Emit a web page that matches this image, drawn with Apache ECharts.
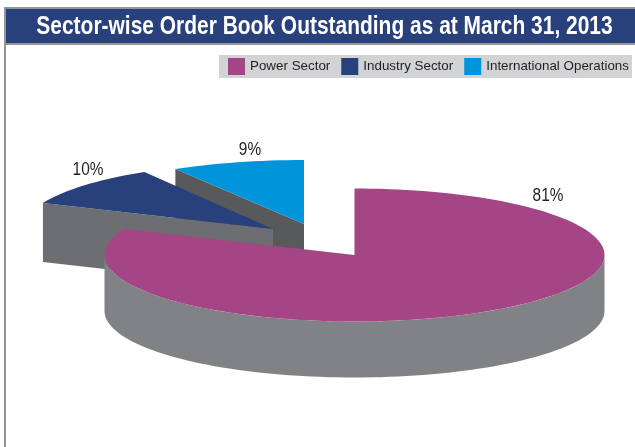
<!DOCTYPE html>
<html><head><meta charset="utf-8">
<style>html,body{margin:0;padding:0;background:#fff}#c{width:635px;height:447px}</style>
<script src="https://cdn.jsdelivr.net/npm/echarts@6/dist/echarts.min.js"></script>
</head><body><div id="c"></div>
<script>
const categories = ['Power Sector', 'Industry Sector', 'International Operations'];
const shareValues = [81.4, 10, 8.6];
const topColors = ['#a44585', '#28407b', '#0094da'];
const sideColors = ['#808285', '#6d6e71', '#58595b'];
const titleText = 'Sector-wise Order Book Outstanding as at March 31, 2013';
const FONT = '"Liberation Sans",Arial,sans-serif';

const RX = 250, RY = [66.5, 66.5, 64], DEPTH = [56, 59, 56];
const apex = [[354.5, 255], [273, 229], [304, 224]];
const labelPos = [[548, 196], [88, 170], [250, 150]];

const total = shareValues.reduce((a, b) => a + b, 0);
function startAngle(i) {
  let s = 0;
  for (let k = 0; k < i; k++) s += shareValues[k];
  return s / total * 360;
}
function pt(i, deg, dy) {
  const r = deg * Math.PI / 180, c = apex[i];
  return [c[0] + RX * Math.sin(r), c[1] - RY[i] * Math.cos(r) + (dy || 0)];
}
function arc(i, a0, a1, dy) {
  const out = [], n = Math.max(2, Math.ceil(Math.abs(a1 - a0) / 2));
  for (let k = 0; k <= n; k++) out.push(pt(i, a0 + (a1 - a0) * k / n, dy));
  return out;
}
function renderSlice(i) {
  return function (params, api) {
    const v = api.value(0);
    const a0 = startAngle(i), a1 = a0 + v / total * 360;
    const c = apex[i], d = DEPTH[i], children = [];
    if (i === 0) {
      const wall = arc(i, 90, 270, 0).concat(arc(i, 270, 90, d));
      children.push({ type: 'polygon', shape: { points: wall }, style: { fill: sideColors[i] } });
    } else {
      const p = pt(i, a0, 0);
      children.push({
        type: 'polygon',
        shape: { points: [c, p, [p[0], p[1] + d], [c[0], c[1] + d]] },
        style: { fill: sideColors[i] }
      });
    }
    children.push({
      type: 'polygon',
      shape: { points: [c].concat(arc(i, a0, a1, 0)) },
      style: { fill: topColors[i] }
    });
    children.push({
      type: 'text',
      x: labelPos[i][0], y: labelPos[i][1], scaleX: 0.88, scaleY: 1,
      style: {
        x: 0, y: 0,
        text: Math.round(v) + '%',
        fill: '#231f20', font: '17.5px ' + FONT,
        align: 'center', verticalAlign: 'middle'
      }
    });
    return { type: 'group', children };
  };
}
const drawOrder = [2, 1, 0];
const series = drawOrder.map((i, z) => ({
  type: 'custom',
  name: categories[i],
  coordinateSystem: 'none',
  z: z + 2,
  silent: true,
  itemStyle: { color: topColors[i] },
  data: [[shareValues[i]]],
  renderItem: renderSlice(i)
}));

const chart = echarts.init(document.getElementById('c'), null, { renderer: 'canvas' });
chart.setOption({
  animation: false,
  backgroundColor: '#ffffff',
  legend: {
    data: categories, left: 219, top: 55, orient: 'horizontal',
    backgroundColor: '#d1d3d4', padding: [3, 3, 3, 9],
    itemWidth: 17, itemHeight: 17, itemGap: 11, icon: 'rect',
    selectedMode: false,
    textStyle: { color: '#231f20', fontFamily: FONT, fontSize: 13.38 }
  },
  graphic: [
    { type: 'rect', z: 1, shape: { x: 4, y: 7, width: 2, height: 440 }, style: { fill: '#939598' } },
    { type: 'rect', z: 1, shape: { x: 4, y: 7, width: 631, height: 38 }, style: { fill: '#939598' } },
    { type: 'rect', z: 1, shape: { x: 6, y: 9, width: 629, height: 34 }, style: { fill: '#28407b' } },
    { type: 'text', z: 5, x: 324.5, y: 27, scaleX: 0.838, scaleY: 1,
      style: { x: 0, y: 0, text: titleText, fill: '#fff', font: 'bold 25px ' + FONT,
               align: 'center', verticalAlign: 'middle' } }
  ],
  series
});
</script></body></html>
